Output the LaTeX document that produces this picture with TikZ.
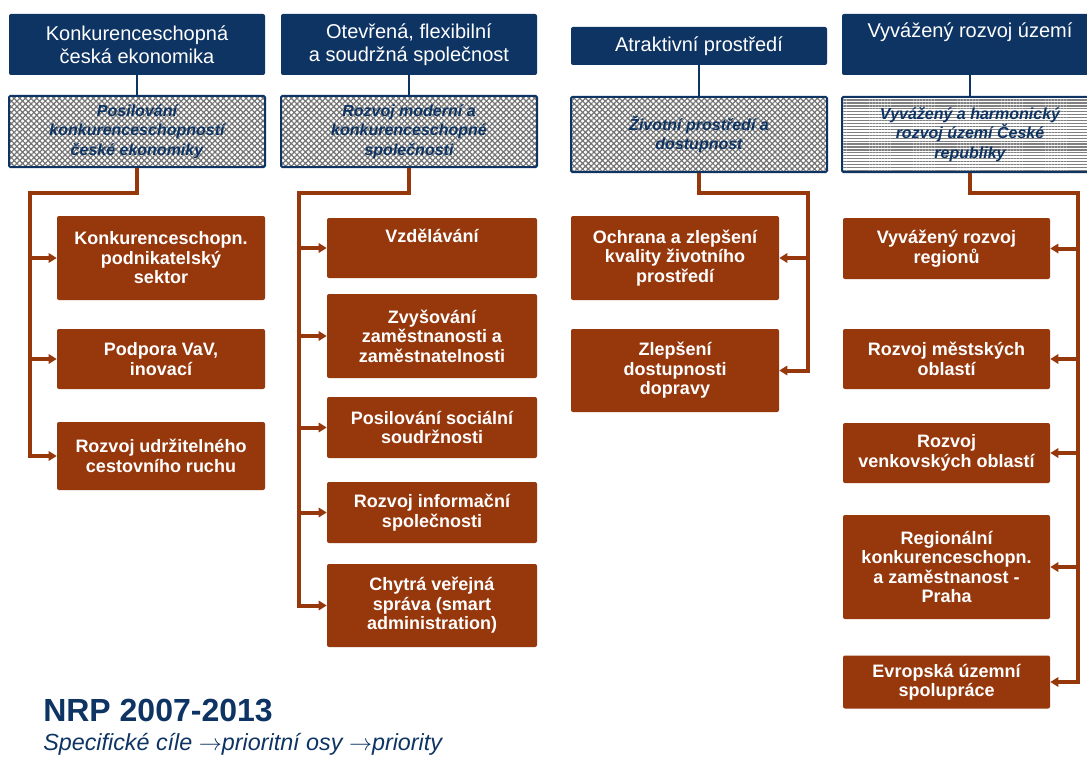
\documentclass[tikz,border=0pt]{standalone}
\usepackage{fontspec}
\setmainfont{Liberation Sans}
\usetikzlibrary{arrows.meta,patterns.meta}
\definecolor{marine}{RGB}{14,52,100}
\definecolor{brique}{RGB}{150,55,12}
\begin{document}
\begin{tikzpicture}[x=0.75pt,y=-0.75pt]
% Styles
\tikzstyle{entete}=[fill=marine,text=white,rounded corners=1.5pt,inner sep=0pt,align=center,font=\fontsize{15}{17}\selectfont]
\tikzstyle{motif}=[draw=marine,line width=1.5pt,rounded corners=1pt,preaction={fill=white},pattern={Hatch[angle=45,distance=3pt,line width=0.9pt]},pattern color=black!55,text=marine,inner sep=0pt,align=center,font=\fontsize{12}{14.5}\selectfont\bfseries\itshape]
\tikzstyle{motifbis}=[motif,pattern={Lines[angle=0,distance=2.2pt,line width=0.9pt]},pattern color=black!50]
\tikzstyle{priorite}=[fill=brique,text=white,rounded corners=1.5pt,inner sep=0pt,align=center,font=\fontsize{13.5}{14.6}\selectfont\bfseries]
\tikzstyle{liaison}=[marine,line width=2pt]
\tikzstyle{fleche}=[brique,line width=3pt,-{Triangle[length=6pt,width=7pt]}]
% Dimensions
\def\px{0.75pt}
\def\Lrg{256*\px}
\def\Lpr{208*\px}
% Colonnes : en-tetes et priorites
\def\xA{137}  \def\xB{409}  \def\xC{699}  \def\xD{970}
\def\pA{161}  \def\pB{432}  \def\pC{675}  \def\pD{946.5}
% Cadre de l'image
\useasboundingbox (0,0) rectangle (1087,763);
\fill[white] (0,0) rectangle (1087,763);
\clip (0,0) rectangle (1087,763);
% En-tetes : specifiques cibles
\node[entete,minimum width=\Lrg,minimum height=61*\px] (e1) at (\xA,44.5) {Konkurenceschopná\\česká ekonomika};
\node[entete,minimum width=\Lrg,minimum height=61*\px] (e2) at (\xB,44.5) {Otevřená, flexibilní\\a soudržná společnost};
\node[entete,minimum width=\Lrg,minimum height=38*\px] (e3) at (\xC,46) {Atraktivní prostředí};
\node[entete,minimum width=\Lrg,minimum height=61*\px] (e4) at (\xD,44.5) {Vyvážený rozvoj území\\\strut};
% Osy prioritni
\node[motif,minimum width=\Lrg,minimum height=71*\px] (m1) at (\xA,131.5) {Posilování\\konkurenceschopností\\české ekonomiky};
\node[motif,minimum width=\Lrg,minimum height=71*\px] (m2) at (\xB,131.5) {Rozvoj moderní a\\konkurenceschopné\\společnosti};
\node[motif,minimum width=\Lrg,minimum height=75*\px] (m3) at (\xC,134.5) {Životní prostředí a\\dostupnost};
\node[motifbis,minimum width=\Lrg,minimum height=75*\px] (m4) at (\xD,134.5) {Vyvážený a harmonický\\rozvoj území České\\republiky};
\draw[liaison] (e1) -- (m1);
\draw[liaison] (e2) -- (m2);
\draw[liaison] (e3) -- (m3);
\draw[liaison] (e4) -- (m4);
% Priority : colonne 1
\node[priorite,minimum width=\Lpr,minimum height=84*\px] (b11) at (\pA,258) {Konkurenceschopn.\\podnikatelský\\sektor};
\node[priorite,minimum width=\Lpr,minimum height=60*\px] (b12) at (\pA,359) {Podpora VaV,\\inovací};
\node[priorite,minimum width=\Lpr,minimum height=68*\px] (b13) at (\pA,456) {Rozvoj udržitelného\\cestovního ruchu};
% Priority : colonne 2
\node[priorite,minimum width=210*\px,minimum height=60*\px] (b21) at (\pB,248) {Vzdělávání\\\strut};
\node[priorite,minimum width=210*\px,minimum height=84*\px] (b22) at (\pB,336) {Zvyšování\\zaměstnanosti a\\zaměstnatelnosti};
\node[priorite,minimum width=210*\px,minimum height=61*\px] (b23) at (\pB,427.5) {Posilování sociální\\soudržnosti};
\node[priorite,minimum width=210*\px,minimum height=61*\px] (b24) at (\pB,512.5) {Rozvoj informační\\společnosti};
\node[priorite,minimum width=210*\px,minimum height=83*\px] (b25) at (\pB,605.5) {Chytrá veřejná\\správa (smart\\administration)};
% Priority : colonne 3
\node[priorite,minimum width=\Lpr,minimum height=84*\px] (b31) at (\pC,258) {Ochrana a zlepšení\\kvality životního\\prostředí};
\node[priorite,minimum width=\Lpr,minimum height=83*\px] (b32) at (\pC,370.5) {Zlepšení\\dostupnosti\\dopravy};
% Priority : colonne 4
\node[priorite,minimum width=207*\px,minimum height=61*\px] (b41) at (\pD,248.5) {Vyvážený rozvoj\\regionů};
\node[priorite,minimum width=207*\px,minimum height=60*\px] (b42) at (\pD,359) {Rozvoj městských\\oblastí};
\node[priorite,minimum width=207*\px,minimum height=60*\px] (b43) at (\pD,453) {Rozvoj\\venkovských oblastí};
\node[priorite,minimum width=207*\px,minimum height=104*\px] (b44) at (\pD,567) {Regionální\\konkurenceschopn.\\a zaměstnanost -\\Praha};
\node[priorite,minimum width=207*\px,minimum height=53*\px] (b45) at (\pD,682) {Evropská územní\\spolupráce};
% Troncs
\coordinate (k1) at (30,193);
\coordinate (k2) at (299,193);
\coordinate (k3) at (808,193);
\coordinate (k4) at (1078,193);
% Fleches
\draw[fleche] (m1.south) |- (k1) |- (b13.west);
\draw[fleche] (k1 |- b11.west) -- (b11.west);
\draw[fleche] (k1 |- b12.west) -- (b12.west);
\draw[fleche] (m2.south) |- (k2) |- (b25.west);
\foreach \b in {b21,b22,b23,b24}
  \draw[fleche] (k2 |- \b.west) -- (\b.west);
\draw[fleche] (m3.south) |- (k3) |- (b32.east);
\draw[fleche] (k3 |- b31.east) -- (b31.east);
\draw[fleche] (m4.south) |- (k4) |- (b45.east);
\foreach \b in {b41,b42,b43,b44}
  \draw[fleche] (k4 |- \b.east) -- (\b.east);
% Titre
\node[anchor=base west,inner sep=0pt,text=marine,font=\fontsize{24}{28}\selectfont\bfseries] (titre) at (43,721) {NRP 2007-2013};
\node[anchor=base west,inner sep=0pt,text=marine,font=\fontsize{17.5}{20}\selectfont\itshape] (soustitre) at (43,750) {Specifické cíle $\rightarrow$prioritní osy $\rightarrow$priority};
\end{tikzpicture}
\end{document}
